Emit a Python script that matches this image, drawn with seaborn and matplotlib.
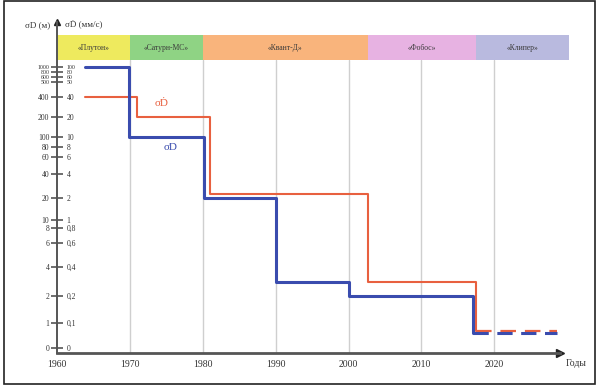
import numpy as np
import matplotlib
matplotlib.use("Agg")
import matplotlib.pyplot as plt
import matplotlib.patches as mpatches
import matplotlib.transforms as mtransforms
import seaborn as sns

# --- data -------------------------------------------------------------
# step changes of range accuracy (left axis, metres)
blue_years = [1963.8, 1969.9, 1980.1, 1990.0, 2000.1, 2017.1]
blue_values = [1000, 100, 20, 3, 2, 0.6]
# step changes of the second characteristic (same scale)
red_years = [1963.8, 1971.0, 1981.0, 2002.7, 2017.5]
red_values = [400, 200, 23, 3, 0.7]
# planned levels (dashed tails)
tail_end_year = 2028.6

# measurement complexes and their periods
complex_names = ["«Плутон»", "«Сатурн-МС»", "«Квант-Д»", "«Фобос»", "«Клипер»"]
complex_starts = [1960, 1970, 1980, 2002.6, 2017.5]
complex_ends = [1970, 1980, 2002.6, 2017.5, 2030.2]
complex_colors = ["#eeea5e", "#8fd384", "#f9b47c", "#e7b2e2", "#b9badf"]

# y ticks: left axis (м) and right axis labels
y_ticks = [0, 1, 2, 4, 6, 8, 10, 20, 40, 60, 80, 100, 200, 400, 500, 600, 800, 1000]
y_labels_left = [str(v) for v in y_ticks]
y_labels_right = ["0", "0,1", "0,2", "0,4", "0,6", "0,8", "1", "2", "4", "6", "8",
                  "10", "20", "40", "50", "60", "80", "100"]
x_ticks = [1960, 1970, 1980, 1990, 2000, 2010, 2020]

# hand-built non-linear y scale: value -> height above the time axis
scale_values = [-1, 0, 1, 2, 4, 6, 8, 10, 20, 40, 60, 80, 100, 200, 400, 500, 600, 800, 1000, 3000]
scale_heights = [0, 5, 30, 57, 86, 110, 125, 133, 155, 179, 196, 206, 216, 236, 256, 271, 276, 281, 286, 340]


def fwd(v):
    return np.interp(v, scale_values, scale_heights)


def inv(h):
    return np.interp(h, scale_heights, scale_values)


# --- figure -----------------------------------------------------------
sns.set_theme(style="white")
plt.rcParams["font.family"] = ["Liberation Serif", "DejaVu Serif"]

W, H = 598, 388
fig = plt.figure(figsize=(W / 100, H / 100), dpi=100)
ax_l, ax_r, ax_b, ax_t = 57, 560, 353, 22
ax = fig.add_axes([ax_l / W, 1 - ax_b / H, (ax_r - ax_l) / W, (ax_b - ax_t) / H])
ax_h = ax_b - ax_t

ax.set_yscale("function", functions=(fwd, inv))
ax.set_xlim(1960, 2029)
ax.set_ylim(-1, float(inv(ax_h)))

# complex bands along the top
band_lo = (ax_b - 60) / ax_h
band_hi = (ax_b - 35) / ax_h
for name, x0, x1, c in zip(complex_names, complex_starts, complex_ends, complex_colors):
    span = ax.axvspan(x0, x1, ymin=band_lo, ymax=band_hi, color=c, lw=0, zorder=1)
    span.set_clip_on(False)
    ax.text((x0 + x1) / 2, (band_lo + band_hi) / 2, name,
            transform=mtransforms.blended_transform_factory(ax.transData, ax.transAxes),
            ha="center", va="center", fontsize=5.5, color="#3a3a3a", zorder=3)

# vertical grid lines
for yr in x_ticks[1:]:
    ax.axvline(yr, ymin=0, ymax=band_lo, color="#cfcfcf", lw=1.0, zorder=0.5)

# step lines
blue = "#3a4cae"
red = "#e8603f"
sns.lineplot(x=red_years, y=red_values, ax=ax, drawstyle="steps-post",
             color=red, lw=1.5, zorder=4)
sns.lineplot(x=blue_years, y=blue_values, ax=ax, drawstyle="steps-post",
             color=blue, lw=2.2, zorder=5)
sns.lineplot(x=[red_years[-1], tail_end_year], y=[red_values[-1]] * 2, ax=ax,
             color=red, lw=1.6, linestyle=(0, (7, 4)), zorder=4)
sns.lineplot(x=[blue_years[-1], tail_end_year], y=[blue_values[-1]] * 2, ax=ax,
             color=blue, lw=2.2, linestyle=(0, (5, 2.8)), zorder=5)

ax.text(1974.4, 330, "σḊ", color=red, fontsize=8, ha="center", va="center")
ax.text(1975.6, 78, "σD", color=blue, fontsize=8, ha="center", va="center")

# axes styling
for s in ["top", "right"]:
    ax.spines[s].set_visible(False)
axis_color = "#555555"
ax.spines["left"].set_color(axis_color)
ax.spines["left"].set_linewidth(1.4)
ax.spines["bottom"].set_color(axis_color)
ax.spines["bottom"].set_linewidth(2.0)
ax.plot([0], [1], marker="^", color="#222222", ms=5, transform=ax.transAxes, clip_on=False)
ax.plot([1], [0], marker=">", color="#222222", ms=6, transform=ax.transAxes, clip_on=False)

ax.set_xticks(x_ticks)
ax.set_xticklabels([str(v) for v in x_ticks])
ax.tick_params(axis="x", length=0, pad=5, labelsize=7, colors="#333333")
ax.set_yticks(y_ticks)
ax.set_yticklabels(y_labels_left)
ax.minorticks_off()
ax.tick_params(axis="y", direction="inout", length=9, width=1.2, color=axis_color,
               pad=1, labelsize=5.5, labelcolor="#333333")

ax2 = ax.twinx()
ax2.set_yscale("function", functions=(fwd, inv))
ax2.set_ylim(ax.get_ylim())
ax2.set_yticks(y_ticks)
ax2.set_yticklabels(y_labels_right)
ax2.minorticks_off()
for s in ["top", "left", "bottom"]:
    ax2.spines[s].set_visible(False)
ax2.spines["right"].set_position(("axes", 0))
ax2.spines["right"].set_visible(False)
ax2.tick_params(axis="y", length=0, pad=7, labelsize=5.5, labelcolor="#333333")
ax2.grid(False)
ax.grid(False)

# the densely packed top ticks get a smaller font
for lab_set in (ax.get_yticklabels(), ax2.get_yticklabels()):
    for lab, v in zip(lab_set, y_ticks):
        if v >= 500:
            lab.set_fontsize(4.2)

# axis captions
fig.text(50 / W, 1 - 25 / H, "σD (м)", ha="right", va="center", fontsize=6.5, color="#333333")
fig.text(65 / W, 1 - 25 / H, "σḊ (мм/с)", ha="left", va="center", fontsize=6.5, color="#333333")
fig.text(566 / W, 1 - 364 / H, "Годы", ha="left", va="center", fontsize=7, color="#333333")

# outer frame
fig.patches.append(mpatches.Rectangle((4 / W, 4 / H), 591 / W, 383 / H, transform=fig.transFigure,
                                      fill=False, edgecolor="#222222", lw=1.2))

fig.savefig("out.png", dpi=100)
